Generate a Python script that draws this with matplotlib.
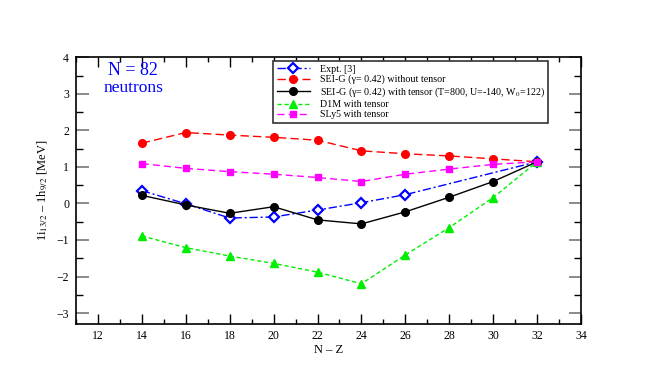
import matplotlib
matplotlib.use("Agg")
import matplotlib.pyplot as plt
from matplotlib.ticker import MultipleLocator

nz_all = [14, 16, 18, 20, 22, 24, 26, 28, 30, 32]
nz_expt = [14, 16, 18, 20, 22, 24, 26, 32]

expt = [0.35, -0.01, -0.40, -0.37, -0.18, 0.02, 0.24, 1.14]
sei_notensor = [1.65, 1.94, 1.87, 1.81, 1.73, 1.44, 1.36, 1.30, 1.22, 1.14]
sei_tensor = [0.22, -0.04, -0.27, -0.09, -0.45, -0.56, -0.23, 0.17, 0.60, 1.14]
d1m = [-0.89, -1.21, -1.44, -1.64, -1.88, -2.20, -1.41, -0.66, 0.16, 1.14]
sly5 = [1.09, 0.96, 0.87, 0.80, 0.71, 0.60, 0.80, 0.94, 1.07, 1.14]

labels = ["Expt. [3]",
          "SEI-G (\u03b3= 0.42) without tensor",
          "SEI-G (\u03b3= 0.42) with tensor (T=800, U=-140, W$_0$=122)",
          "D1M with tensor",
          "SLy5 with tensor"]

plt.rcParams['font.family'] = ['Liberation Serif', 'DejaVu Serif']
plt.rcParams['mathtext.fontset'] = 'stix'

fig = plt.figure(figsize=(6.54, 3.82), dpi=100)
ax = fig.add_axes([76/654, 1 - 324/382, (581 - 76)/654, (324 - 57.3)/382])

ax.plot(nz_expt, expt, color='#0000ff', ls=(0, (6, 2, 1.5, 2)), lw=1,
        marker='D', ms=5, mfc='white', mec='#0000ff', mew=1.6, label=labels[0])
ax.plot(nz_all, sei_notensor, color='#ff0000', ls=(0, (6, 3)), lw=1,
        marker='o', ms=5.5, label=labels[1])
ax.plot(nz_all, sei_tensor, color='black', ls='-', lw=1,
        marker='o', ms=5.5, label=labels[2])
ax.plot(nz_all, d1m, color='#00ee00', ls=(0, (3, 2)), lw=1,
        marker='^', ms=5.5, label=labels[3])
ax.plot(nz_all, sly5, color='#ff00ff', ls=(0, (5, 3)), lw=1,
        marker='s', ms=5, label=labels[4])

ax.set_xlim(11, 34)
ax.set_ylim(-3.3, 4)
ax.xaxis.set_major_locator(MultipleLocator(2))
ax.xaxis.set_minor_locator(MultipleLocator(1))
ax.yaxis.set_major_locator(MultipleLocator(1))
ax.yaxis.set_minor_locator(MultipleLocator(0.5))
ax.tick_params(which='both', direction='in', top=True, right=True, labelsize=8.5)
ax.tick_params(axis='x', which='major', length=7, color='black', width=1, pad=4)
ax.tick_params(axis='x', which='minor', length=3.5, width=1)
ax.tick_params(axis='y', which='major', length=9, color='#777777', width=1.2, pad=5)
ax.tick_params(axis='y', which='minor', length=5, width=1)
for s in ax.spines.values():
    s.set_linewidth(1.2)

ax.set_xlabel("N \u2013 Z", fontsize=9, labelpad=2)
ax.set_ylabel("1i$_{13/2}$ \u2013 1h$_{9/2}$ [MeV]", fontsize=9, labelpad=5)

ax.text(0.112, 0.933, "N = 82", transform=ax.transAxes, color='#0000ff',
        fontsize=13, ha='center', va='baseline')
ax.text(0.114, 0.870, "neutrons", transform=ax.transAxes, color='#0000ff',
        fontsize=12.5, ha='center', va='baseline')

leg = ax.legend(loc='upper left', bbox_to_anchor=((273 - 76)/505, 1 - (61 - 57.3)/266.7),
                fontsize=7.2, handlelength=3.3, handletextpad=1.0,
                borderpad=0.35, borderaxespad=0, labelspacing=0.12,
                fancybox=False, framealpha=1, edgecolor='#333333')
leg.get_frame().set_linewidth(1.2)

fig.savefig("out.png", dpi=100)
